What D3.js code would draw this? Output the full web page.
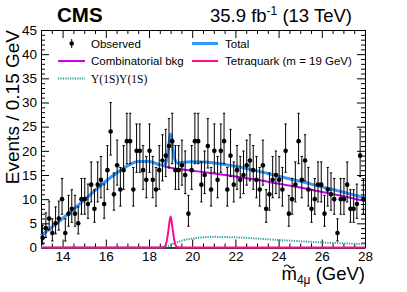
<!DOCTYPE html>
<html>
<head>
<meta charset="utf-8"/>
<script src="https://d3js.org/d3.v7.min.js"></script>
<style>
  body { margin: 0; background: #fff; }
  svg { display: block; font-family: "Liberation Sans", Arial, sans-serif; }
</style>
</head>
<body>
<div id="chart"></div>
<script>
// observed counts per 0.15 GeV bin, 13 -> 28 GeV
const binLow = 13, binWidth = 0.15;
const observed = [
  2, 4, 6, 3, 5, 6, 10, 3, 7, 8,
  7, 5, 10, 10, 9, 13, 8, 13, 14, 9,
  16, 24, 11, 17, 12, 16, 22, 22, 12, 20,
  20, 16, 14, 20, 14, 12, 16, 18, 19, 21,
  22, 16, 16, 17, 15, 7, 16, 22, 22, 13,
  15, 21, 12, 20, 14, 20, 22, 12, 19, 13,
  16, 14, 15, 17, 18, 16, 14, 12, 17, 8,
  11, 14, 15, 14, 12, 20, 7, 10, 13, 22,
  14, 18, 12, 8, 10, 13, 13, 7, 12, 11,
  10, 3, 10, 10, 13, 8, 8, 9, 19, 10
];

// fit curves sampled along the mass axis
const curveMass = [13, 13.5, 14, 14.5, 15, 15.5, 16, 16.5, 17, 17.5, 18, 18.5, 18.7, 18.8, 18.9, 18.95, 19, 19.05, 19.1, 19.2, 19.3, 19.5, 20, 20.5, 21, 22, 23, 24, 25, 26, 27, 28];
const combBkg = [2.4, 4.2, 6.0, 7.9, 9.8, 11.8, 13.7, 15.4, 16.9, 17.8, 17.8, 17.1, 16.8, 16.7, 16.6, 16.55, 16.5, 16.45, 16.4, 16.35, 16.3, 16.2, 15.9, 15.6, 15.3, 14.7, 14.0, 13.2, 12.4, 11.5, 10.6, 9.6];
const upsUps = [0, 0, 0, 0, 0, 0, 0, 0, 0, 0, 0, 0, 0.1, 0.2, 0.35, 0.45, 0.55, 0.65, 0.75, 0.95, 1.1, 1.4, 1.85, 2.1, 2.2, 2.1, 1.85, 1.55, 1.3, 1.05, 0.85, 0.7];
const tetra = [0, 0, 0, 0, 0, 0, 0, 0, 0, 0, 0, 0, 0.1, 0.9, 3.6, 5.3, 6.4, 5.3, 3.6, 0.9, 0.1, 0, 0, 0, 0, 0, 0, 0, 0, 0, 0, 0];
const total = [2.4, 4.2, 6.0, 7.9, 9.8, 11.8, 13.7, 15.4, 16.9, 17.8, 17.8, 17.1, 17.0, 17.8, 20.55, 22.3, 23.45, 22.4, 20.75, 18.2, 17.5, 17.6, 17.75, 17.7, 17.5, 16.8, 15.85, 14.75, 13.7, 12.55, 11.45, 10.3];

const xMajor = [14, 16, 18, 20, 22, 24, 26, 28];
const yMajor = [0, 5, 10, 15, 20, 25, 30, 35, 40, 45];

const W = 407, H = 292;
const padL = 41, padR = 365, padT = 30, padB = 247.5;

const svg = d3.select('#chart').append('svg').attr('width', W).attr('height', H);

const x = d3.scaleLinear().domain([13, 28]).range([padL, padR]);
const y = d3.scaleLinear().domain([0, 45]).range([padB, padT]);

const xMinor = d3.range(13, 28.01, 0.5).filter(v => !xMajor.includes(v));
const yMinor = d3.range(0, 45.01, 1).filter(v => !yMajor.includes(v));

// axes: ROOT style ticks pointing inward on all four sides
function drawAxis(axisFn, scale, pos, major, minor, labels) {
  const g1 = svg.append('g').attr('transform', pos)
    .call(axisFn(scale).tickValues(minor).tickSize(-4).tickSizeOuter(0).tickFormat(''));
  const g2 = svg.append('g').attr('transform', pos)
    .call(axisFn(scale).tickValues(major).tickSize(-8).tickSizeOuter(0)
      .tickPadding(labels ? 4 : 0).tickFormat(labels ? d3.format('d') : ''));
  [g1, g2].forEach(g => {
    g.selectAll('line').attr('stroke', '#000').attr('stroke-width', 1);
    g.select('.domain').attr('stroke', '#000').attr('stroke-width', 1);
  });
  g2.selectAll('text').attr('fill', '#000').style('font-size', '13.5px')
    .style('font-family', '"Liberation Sans", Arial, sans-serif');
  return g2;
}
drawAxis(d3.axisBottom, x, `translate(0,${padB})`, xMajor, xMinor, true);
drawAxis(d3.axisTop, x, `translate(0,${padT})`, xMajor, xMinor, false);
drawAxis(d3.axisLeft, y, `translate(${padL},0)`, yMajor, yMinor, true);
drawAxis(d3.axisRight, y, `translate(${padR},0)`, yMajor, yMinor, false);

// curves
const pts = vals => curveMass.map((m, i) => [m, vals[i]]);
const line = d3.line().x(d => x(d[0])).y(d => y(d[1])).curve(d3.curveMonotoneX);

svg.append('path').attr('d', line(pts(upsUps)))
  .attr('fill', 'none').attr('stroke', '#2e9a9a').attr('stroke-width', 2).attr('stroke-dasharray', '1.2,1.2');
svg.append('path').attr('d', line(pts(tetra)))
  .attr('fill', 'none').attr('stroke', '#ff0a8c').attr('stroke-width', 2);
svg.append('path').attr('d', line(pts(combBkg)))
  .attr('fill', 'none').attr('stroke', '#cc00ee').attr('stroke-width', 2);
svg.append('path').attr('d', line(pts(total)))
  .attr('fill', 'none').attr('stroke', '#3399ff').attr('stroke-width', 3);

// observed points with Poisson (Garwood-like) errors
const obs = observed.map((n, i) => ({
  m: binLow + binWidth * (i + 0.5), n: n,
  lo: n - Math.sqrt(Math.max(n - 0.25, 0)),
  hi: n + 1 + Math.sqrt(n + 0.75)
}));
const gObs = svg.append('g');
gObs.selectAll('line.bar').data(obs).enter().append('line')
  .attr('x1', d => x(d.m)).attr('x2', d => x(d.m))
  .attr('y1', d => y(d.lo)).attr('y2', d => y(d.hi))
  .attr('stroke', '#000').attr('stroke-width', 1);
['lo', 'hi'].forEach(k => {
  gObs.selectAll('line.cap' + k).data(obs).enter().append('line')
    .attr('x1', d => x(d.m) - 1.2).attr('x2', d => x(d.m) + 1.2)
    .attr('y1', d => y(d[k])).attr('y2', d => y(d[k]))
    .attr('stroke', '#000').attr('stroke-width', 1);
});
gObs.selectAll('circle').data(obs).enter().append('circle')
  .attr('cx', d => x(d.m)).attr('cy', d => y(d.n)).attr('r', 2.3).attr('fill', '#000');

// legend
const lg = svg.append('g').style('font-size', '11.5px');
lg.append('line').attr('x1', 71.7).attr('x2', 71.7).attr('y1', 39).attr('y2', 48).attr('stroke', '#000');
lg.append('circle').attr('cx', 71.7).attr('cy', 43.5).attr('r', 2.3).attr('fill', '#000');
lg.append('text').attr('x', 91).attr('y', 47.5).text('Observed');
lg.append('line').attr('x1', 192).attr('x2', 218).attr('y1', 43.5).attr('y2', 43.5).attr('stroke', '#3399ff').attr('stroke-width', 3);
lg.append('text').attr('x', 225).attr('y', 47.5).text('Total');
lg.append('line').attr('x1', 58).attr('x2', 85).attr('y1', 61).attr('y2', 61).attr('stroke', '#cc00ee').attr('stroke-width', 2);
lg.append('text').attr('x', 91).attr('y', 65).text('Combinatorial bkg');
lg.append('line').attr('x1', 192).attr('x2', 218).attr('y1', 61).attr('y2', 61).attr('stroke', '#ff0a8c').attr('stroke-width', 2);
lg.append('text').attr('x', 225).attr('y', 65).text('Tetraquark (m = 19 GeV)');
lg.append('line').attr('x1', 58).attr('x2', 85).attr('y1', 78.5).attr('y2', 78.5).attr('stroke', '#2e9a9a').attr('stroke-width', 2).attr('stroke-dasharray', '1.2,1.2');
lg.append('text').attr('x', 91).attr('y', 82.5).style('font-family', '"Liberation Serif", serif').text('\u03A5(1S)\u03A5(1S)');

// titles
svg.append('text').attr('x', 57).attr('y', 22).style('font-size', '20.5px').style('font-weight', 'bold').text('CMS');
const lum = svg.append('text').attr('x', 352).attr('y', 22).attr('text-anchor', 'end').style('font-size', '18.5px');
lum.append('tspan').text('35.9 fb');
lum.append('tspan').attr('dy', -7).style('font-size', '12px').text('-1');
lum.append('tspan').attr('dy', 7).text(' (13 TeV)');

svg.append('text').attr('transform', `translate(19,${padT}) rotate(-90)`).attr('text-anchor', 'end')
  .style('font-size', '19px').text('Events / 0.15 GeV');

const xt = svg.append('text').attr('x', padR).attr('y', 280).attr('text-anchor', 'end').style('font-size', '18.5px');
xt.append('tspan').text('m');
xt.append('tspan').attr('dy', 4).style('font-size', '12px').text('4\u03BC');
xt.append('tspan').attr('dy', -4).text(' (GeV)');
// tilde over the m, drawn as a small wave
const mBox = xt.node().getExtentOfChar ? xt.node().getExtentOfChar(0) : null;
const tx = mBox ? mBox.x + mBox.width / 2 : 289;
svg.append('path')
  .attr('d', `M${tx - 5},${266.5} q2.5,-3 5,0 t5,0`)
  .attr('fill', 'none').attr('stroke', '#000').attr('stroke-width', 1.2);
</script>
</body>
</html>
